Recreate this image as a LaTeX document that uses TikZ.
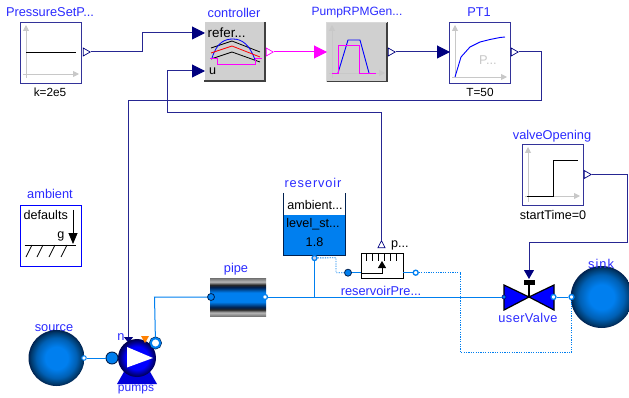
\documentclass[tikz,border=0pt]{standalone}
\usepackage{fontspec}
\setmainfont{Liberation Sans}
\usetikzlibrary{shapes.geometric, arrows.meta, positioning, calc}

\definecolor{modnavy}{HTML}{00007F}
\definecolor{modblue}{HTML}{007FEF}
\definecolor{modlabel}{HTML}{2A2AFF}
\definecolor{moddark}{HTML}{00204F}
\definecolor{modgray}{HTML}{D0D0D0}
\definecolor{axisgray}{HTML}{C8C8C8}
\definecolor{modpink}{HTML}{FF00FF}
\definecolor{modorange}{HTML}{FF8000}
\definecolor{modred}{HTML}{FF0000}
\definecolor{modpure}{HTML}{0000FF}
\definecolor{pipegray}{HTML}{B8B8B8}
\definecolor{pipeedge}{HTML}{707070}
\pgfdeclareradialshading{portball}{\pgfpointorigin}{color(0bp)=(modblue); color(10bp)=(modblue); color(18bp)=(modblue!75!black); color(23bp)=(modblue!45!black); color(25bp)=(moddark); color(50bp)=(moddark)}
\pgfdeclareradialshading{pumpball}{\pgfpointorigin}{color(0bp)=(modpure); color(15bp)=(modpure); color(22bp)=(modnavy); color(25bp)=(modnavy!60!black); color(50bp)=(modnavy!60!black)}
\pgfdeclareverticalshading{pipeshade}{100bp}{color(0bp)=(pipeedge); color(25bp)=(pipeedge); color(30bp)=(pipegray); color(34bp)=(black!85); color(37bp)=(moddark); color(44bp)=(modblue); color(56bp)=(modblue); color(63bp)=(moddark); color(66bp)=(black!85); color(70bp)=(pipegray); color(75bp)=(pipeedge); color(100bp)=(pipeedge)}

\tikzset{
  blockbox/.style={rectangle, draw=modnavy!80, line width=0.9pt, fill=white, minimum width=61pt, minimum height=61pt, inner sep=0pt},
  graybox/.style={rectangle, fill=modgray, minimum width=60pt, minimum height=59pt, inner sep=0pt},
  namelabel/.style={text=modlabel, font=\fontsize{12.8}{14}\selectfont, inner sep=0pt},
  parlabel/.style={text=black, font=\fontsize{12.6}{14}\selectfont, inner sep=0pt},
  outtri/.style={isosceles triangle, isosceles triangle stretches, draw=modnavy, fill=white, line width=0.7pt, minimum height=7pt, minimum width=8pt, inner sep=0pt},
  signal/.style={draw=modnavy!85, line width=1pt},
  intip/.style={-{Triangle[length=13pt,width=13pt,color=modnavy]}},
  fluid/.style={draw=modblue, line width=1pt},
  sensor/.style={draw=modblue, line width=0.9pt, dash pattern=on 1.2pt off 1.2pt},
  portsmall/.style={circle, draw=modblue, fill=white, line width=1.3pt, minimum size=5pt, inner sep=0pt},
  portbig/.style={circle, draw=moddark, fill=modblue, line width=0.9pt, minimum size=12pt, inner sep=0pt},
  axisline/.style={draw=axisgray, line width=0.9pt, -{Triangle[length=6pt,width=6pt]}}
}

\begin{document}
\begin{tikzpicture}[x=1pt, y=-1pt]
\useasboundingbox (0,0) rectangle (629,398);

\node[blockbox] (pressure) at (50.5,52.5) {};
\node[graybox] (controller) at (234.5,51.5) {};
\draw[black!75, line width=1.6pt] (controller.north east) -- (controller.south east) -- (controller.south west);
\node[graybox] (rpmgen) at (357,52) {};
\draw[black!75, line width=1.6pt] (rpmgen.north east) -- (rpmgen.south east) -- (rpmgen.south west);
\draw[white!85!black, line width=1.2pt] (rpmgen.south west) -- (rpmgen.north west) -- (rpmgen.north east);
\node[blockbox] (pt1) at (479.5,52.5) {};
\node[blockbox] (opening) at (552.5,174.5) {};
\node[rectangle, draw=modpure, line width=0.9pt, fill=white, minimum width=61pt, minimum height=61pt, inner sep=0pt] (ambient) at (50.5,235.5) {};

\node[namelabel] at (50,12.5) {PressureSetP...};
\node[namelabel] at (234,12.5) {controller};
\node[namelabel, font=\fontsize{12}{14}\selectfont] at (357,12.5) {PumpRPMGen...};
\node[namelabel] at (479,12.5) {PT1};
\node[namelabel] at (552,136) {valveOpening};
\node[namelabel] at (50,194) {ambient};
\node[namelabel, font=\fontsize{12.8}{14}\selectfont\addfontfeature{LetterSpace=7}] at (313,183) {reservoir};
\node[namelabel] at (236,269) {pipe};
\node[namelabel] at (381,291) {reservoirPre...};
\node[namelabel, font=\fontsize{12.8}{14}\selectfont\addfontfeature{LetterSpace=3}] at (528,318) {userValve};
\node[namelabel] at (54,328) {source};
\node[namelabel, font=\fontsize{12}{14}\selectfont] at (136,390) {pumps};
\node[parlabel, font=\fontsize{11.8}{14}\selectfont] at (50,92) {k=2e5};
\node[parlabel, font=\fontsize{11.8}{14}\selectfont] at (480,92) {T=50};
\node[parlabel] at (553,215) {startTime=0};

\draw[axisline] (26,78) -- (26,25);
\draw[axisline] (23,74) -- (79,74);
\draw[black, line width=0.9pt] (26,52) -- (76,52);

\node[parlabel, anchor=west, font=\fontsize{13.4}{14}\selectfont] at (207.5,33) {refer...};
\node[parlabel, anchor=west] at (209,71) {u};
\draw[black, line width=0.8pt] (211,48) -- (232,41) -- (260,52);
\draw[black, line width=0.8pt] (211,59) -- (232,52) -- (260,62);
\draw[modpure, line width=0.8pt] (212,58) .. controls (217,42) and (225,39) .. (233,39) .. controls (242,39) and (250,45) .. (255,60);
\draw[modred, line width=0.8pt] (211,53) -- (232,46) -- (260,57);
\draw[modpink, line width=0.9pt] (210,58) -- (217,58) -- (217,64) -- (255,64) -- (255,58) -- (262,58);

\draw[axisline] (332,78) -- (332,25);
\draw[axisline] (329,73) -- (385,73);
\draw[modpure, line width=0.9pt] (338,73) -- (348,40) -- (360,40) -- (369,73);
\draw[modpink, line width=0.9pt] (332,73) -- (338,73) -- (338,45) -- (359,45) -- (359,73) -- (376,73);

\draw[axisline] (455,78) -- (455,25);
\draw[axisline] (452,77) -- (507,77);
\draw[modpure, line width=0.9pt] (455,77) -- (461,57) -- (470,47) -- (480,42) -- (490,39.5) -- (500,37.5) -- (505,37);
\node[text=axisgray, font=\fontsize{12.8}{14}\selectfont, inner sep=0pt] at (488,60) {P...};

\draw[axisline] (528,202) -- (528,147);
\draw[axisline] (525,196) -- (580,196);
\draw[black, line width=0.9pt] (527,196) -- (553,196) -- (553,160) -- (578,160);

\node[parlabel, anchor=west] at (23.5,215) {defaults};
\node[parlabel] at (61,236) {g};
\draw[black, line width=0.8pt, -{Triangle[length=11pt,width=9pt]}] (73,210) -- (73,244);
\draw[black, line width=0.9pt] (24.5,245) -- (76,245);
\foreach \hx in {32,43,55,67}
  \draw[black, line width=0.8pt] (\hx,245) -- ++(-6,12);

\node[outtri] (pressureOut) at (85.5,52) {};
\node[outtri, draw=modpink] (controllerOut) at (268.5,52) {};
\node[outtri] (rpmgenOut) at (390.5,52) {};
\node[outtri] (pt1Out) at (513.5,52) {};
\node[outtri] (openingOut) at (586.5,174.5) {};

\coordinate (controllerRef) at (205,33);
\coordinate (controllerU) at (205,71);
\coordinate (rpmgenIn) at (327,52);
\coordinate (pt1In) at (450,52);
\coordinate (pumpN) at (128.5,343);
\coordinate (valveIn) at (529,279);

\draw[signal, intip] (pressureOut.apex) -- (142,52) -- (142,33) -- (controllerRef);
\draw[modpink, line width=1pt, -{Triangle[length=13pt,width=13pt]}] (controllerOut.apex) -- (rpmgenIn);
\draw[signal, intip] (rpmgenOut.apex) -- (pt1In);
\draw[signal, -{Triangle[length=6pt,width=9pt,color=modnavy]}] (pt1Out.apex) -- (541,52) -- (541,101) -- (128.5,101) -- (pumpN);
\draw[signal, -{Triangle[length=9pt,width=10pt,color=modnavy]}] (openingOut.apex) -- (627,174.5) -- (627,242) -- (529,242) -- (valveIn);

\node[rectangle, fill=white, minimum width=61pt, minimum height=22pt, inner sep=0pt] (resTop) at (314.5,204) {};
\node[rectangle, fill=modblue, minimum width=61pt, minimum height=40pt, inner sep=0pt] (resLevel) at (314.5,235) {};
\draw[moddark, line width=0.9pt] (resTop.north west) -- (resLevel.south west) -- (resLevel.south east) -- (resTop.north east);
\node[parlabel] at (315,205) {ambient...};
\node[parlabel] at (313,224) {level\_st...};
\node[parlabel] at (314.5,242) {1.8};

\node[rectangle, draw=black, line width=0.9pt, fill=white, minimum width=42pt, minimum height=25pt, inner sep=0pt] (pressureSensor) at (382,266) {};
\foreach \tx in {366,372,378,384,390,396}
  \draw[black, line width=0.7pt] (\tx,254) -- (\tx,261);
\draw[black, line width=0.9pt, -{Triangle[length=7pt,width=8pt]}] (361,273) -- (382,273) -- (382,261);

\node[portsmall, draw=modblue, fill=modnavy!20] (reservoirPort) at (314.5,258) {};
\node[circle, draw=moddark, fill=modblue, line width=0.8pt, minimum size=7pt, inner sep=0pt] (sensorA) at (348,272.7) {};
\node[portsmall] (sensorB) at (415.7,272.7) {};
\node[isosceles triangle, isosceles triangle stretches, shape border rotate=90, draw=modnavy, fill=white, line width=0.7pt, minimum height=7pt, minimum width=7pt, inner sep=0pt] (sensorP) at (381.5,245.5) {};
\node[parlabel, anchor=west] at (391,245) {p...};
\draw[signal, intip] (sensorP.apex) -- (381.5,113) -- (167,113) -- (167,71) -- (controllerU);

\draw[fluid] (sensorA) -- (pressureSensor.west |- sensorA);
\draw[fluid] (sensorB) -- (pressureSensor.east |- sensorB);

\shade[shading=pipeshade] (210,278) rectangle (266,316.5);
\node[circle, draw=moddark, fill=modblue, line width=0.8pt, minimum width=5pt, minimum height=7pt, inner sep=0pt] (pipeIn) at (211,297) {};
\node[portsmall] (pipeOut) at (265,297) {};

\node[circle, shade, shading=portball, minimum size=56pt, inner sep=0pt] (source) at (56.5,358) {};
\node[portsmall, minimum size=4.5pt, line width=1pt] (sourcePort) at (84,358) {};

\fill[modpure!85!black] (117,384) -- (125,370) -- (149,370) -- (157,384) -- cycle;
\node[circle, shade, shading=pumpball, minimum size=38pt, inner sep=0pt] (pump) at (137,358) {};
\fill[white] (127,347) -- (153,358) -- (127,367.5) -- cycle;
\node[portbig] (pumpIn) at (112,358) {};
\node[circle, draw=modblue, fill=white, line width=2pt, preaction={draw=moddark, line width=3.2pt}, minimum size=9.5pt, inner sep=0pt] (pumpOut) at (155.5,343) {};
\fill[modorange] (141,336) -- (149,336) -- (145,343) -- cycle;
\node[namelabel] at (121,337) {n};

\draw[fluid] (sourcePort) -- (pumpIn);
\draw[fluid] (pumpOut) -- (154.5,297) -- (pipeIn);
\draw[fluid] (reservoirPort) -- (314.5,297);

\node[circle, shade, shading=portball, minimum size=62pt, inner sep=0pt] (sink) at (601.7,297) {};
\node[namelabel, font=\fontsize{12.8}{14}\selectfont\addfontfeature{LetterSpace=8}] at (601,264) {sink};

\draw[black, line width=1.2pt, fill=modpure] (504,285) -- (529,297) -- (504,310) -- cycle;
\draw[black, line width=1.2pt, fill=modpure] (554,285) -- (529,297) -- (554,310) -- cycle;
\draw[black, line width=1.6pt] (529,297) -- (529,283);
\node[rectangle, fill=black, minimum width=11pt, minimum height=5pt, inner sep=0pt] (valveStem) at (529,282) {};
\node[portsmall, draw=modnavy, fill=modblue, minimum size=4pt, line width=0.6pt] (valveA) at (504,297) {};
\node[portsmall] (valveB) at (553.5,297) {};
\node[portsmall] (sinkPort) at (571.5,297) {};
\draw[fluid] (pipeOut) -- (valveA);
\draw[fluid] (valveB) -- (sinkPort);

\draw[sensor] (reservoirPort) -- (336,257.7) -- (336,272.7) -- (sensorA);
\draw[sensor] (sensorB) -- (460.7,272.7) -- (460.7,352.7) -- (571.5,352.7) -- (sinkPort);
\end{tikzpicture}
\end{document}
